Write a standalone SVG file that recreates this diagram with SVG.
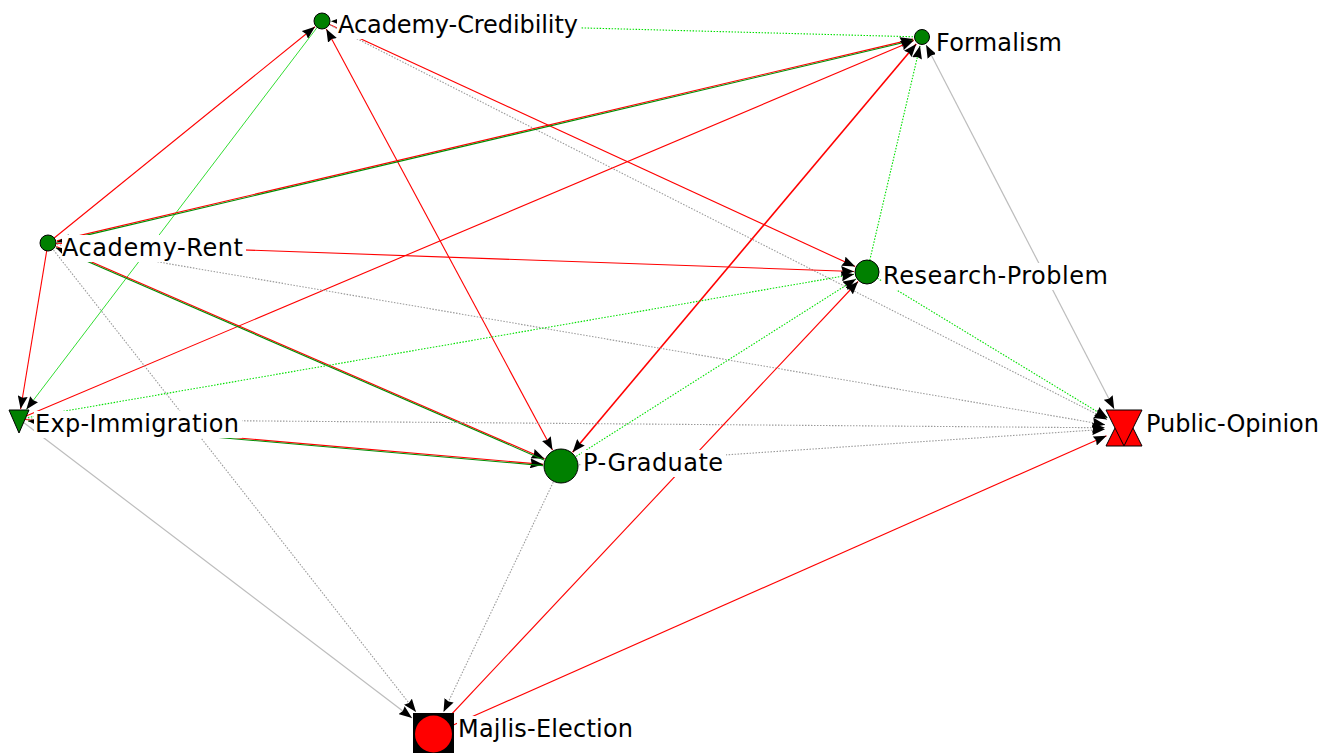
<svg xmlns="http://www.w3.org/2000/svg" width="1329" height="753" viewBox="0 0 1329 753">
<defs>
<marker id="ah" viewBox="0 0 13 10" refX="13" refY="5" markerWidth="13" markerHeight="10" markerUnits="userSpaceOnUse" orient="auto-start-reverse"><path d="M0,0 L13,5 L0,10 L1.5,5 z" fill="#000"/></marker>
</defs>
<style>
.red{stroke:#ff0000;stroke-width:1.1;fill:none}
.grn{stroke:#008c00;stroke-width:1.1;fill:none}
.lgrn{stroke:#33dd33;stroke-width:1;fill:none}
.gdot{stroke:#00e000;stroke-width:1.1;stroke-dasharray:1.5 1.5;fill:none}
.gray{stroke:#bdbdbd;stroke-width:1.2;fill:none}
.graydot{stroke:#9a9a9a;stroke-width:1.1;stroke-dasharray:1.5 1.5;fill:none}
.me{marker-end:url(#ah)}
.both{marker-start:url(#ah);marker-end:url(#ah)}
.node{fill:#008000;stroke:#000;stroke-width:1}
.lbl{font-family:"DejaVu Sans","Verdana",sans-serif;font-size:24px;fill:#000}
.bg{fill:#fff}
</style>
<rect width="1329" height="753" fill="#fff"/>
<g id="connectors">
<path class="gdot me" d="M922,37 L331,21.2"/>
<path class="red me" d="M48,243 L315,26.7"/>
<path class="lgrn me" d="M322,21 L26.3,409.5"/>
<path class="red both" d="M326.3,28.9 L552.5,450.1"/>
<path class="red me" d="M322,21 L855.2,266.6"/>
<path class="graydot me" d="M322,21 L1107.1,419.4"/>
<path class="red me" d="M56.8,240.9 L913.2,39.1"/>
<path class="grn me" d="M913.4,40.3 L57,242.1"/>
<path class="red me" d="M19,419 L913.7,40.5"/>
<path class="red both" style="stroke-width:1.6" d="M572.6,452.2 L916.2,43.9"/>
<path class="gdot me" d="M867,272 L920,45.8"/>
<path class="gray both" d="M926.1,45 L1114.2,409"/>
<path class="red me" d="M48,243 L854,271.5"/>
<path class="red me" d="M48,243 L20.6,409"/>
<path class="red me" d="M56.3,246.6 L544.5,458.8"/>
<path class="grn me" d="M544,459.9 L55.8,247.7"/>
<path class="graydot me" d="M48,243 L1105.3,424.8"/>
<path class="graydot me" d="M48,243 L416,712"/>
<path class="gdot me" d="M19,419 L854.2,274.2"/>
<path class="graydot me" d="M19,419 L1105,427.8"/>
<path class="red me" d="M19,419 L543.1,464.4"/>
<path class="grn me" d="M543,465.6 L28,421"/>
<path class="gray me" d="M19,419 L412,718"/>
<path class="gdot me" d="M561,466 L856,279"/>
<path class="graydot me" d="M561,466 L1105,429.3"/>
<path class="graydot me" d="M561,466 L443.5,712"/>
<path class="red me" d="M433,734 L858.1,281.5"/>
<path class="red me" d="M433,734 L1106.6,435.7"/>
<path class="gdot me" d="M867,272 L1107.8,418.1"/>
</g>
<g id="node-academy-credibility">
<rect class="bg" x="337" y="12" width="244" height="27"/>
<circle class="node" cx="322" cy="21" r="8"/>
<text class="lbl" x="338" y="33" textLength="240">Academy-Credibility</text>
</g>
<g id="node-formalism">
<rect class="bg" x="935" y="30" width="130" height="27"/>
<circle class="node" cx="922" cy="37" r="7.5"/>
<text class="lbl" x="936" y="51" textLength="126">Formalism</text>
</g>
<g id="node-academy-rent">
<rect class="bg" x="62" y="235" width="184" height="27"/>
<circle class="node" cx="48" cy="243" r="8"/>
<text class="lbl" x="62" y="256" textLength="181">Academy-Rent</text>
</g>
<g id="node-research-problem">
<rect class="bg" x="882" y="263" width="229" height="27"/>
<circle class="node" cx="867" cy="272" r="12"/>
<text class="lbl" x="883" y="284" textLength="225">Research-Problem</text>
</g>
<g id="node-exp-immigration">
<rect class="bg" x="34" y="411" width="208" height="27"/>
<polygon class="node" points="9,410 29,410 19,433"/>
<text class="lbl" x="35" y="432" textLength="204">Exp-Immigration</text>
</g>
<g id="node-p-graduate">
<rect class="bg" x="582" y="450" width="144" height="27"/>
<circle class="node" cx="561" cy="466" r="17"/>
<text class="lbl" x="583" y="471" textLength="140">P-Graduate</text>
</g>
<g id="node-public-opinion">
<rect class="bg" x="1145" y="411" width="178" height="27"/>
<polygon points="1106,446 1142,446 1124,410" fill="#ff0000" stroke="#000" stroke-width="1"/>
<polygon points="1106,410 1142,410 1124,446" fill="#ff0000" stroke="#000" stroke-width="1"/>
<text class="lbl" x="1146" y="432" textLength="173">Public-Opinion</text>
</g>
<g id="node-majlis-election">
<rect class="bg" x="457" y="716" width="180" height="27"/>
<rect x="413" y="713" width="41" height="42" fill="#000"/>
<circle cx="433.5" cy="734" r="18.5" fill="#ff0000"/>
<text class="lbl" x="458" y="737" textLength="175">Majlis-Election</text>
</g>
</svg>
